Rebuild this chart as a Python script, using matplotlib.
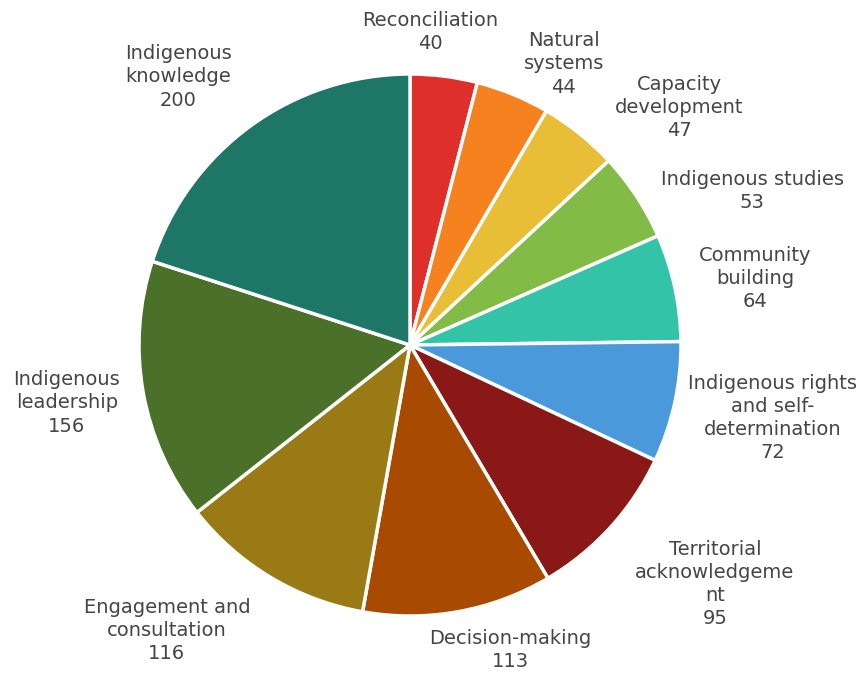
import matplotlib
matplotlib.use("Agg")
import matplotlib.pyplot as plt
import numpy as np

categories = [
    "Reconciliation",
    "Natural\nsystems",
    "Capacity\ndevelopment",
    "Indigenous studies",
    "Community\nbuilding",
    "Indigenous rights\nand self-\ndetermination",
    "Territorial\nacknowledgeme\nnt",
    "Decision-making",
    "Engagement and\nconsultation",
    "Indigenous\nleadership",
    "Indigenous\nknowledge",
]
values = [40, 44, 47, 53, 64, 72, 95, 113, 116, 156, 200]
colors = [
    "#DF2F2A", "#F5821E", "#E8BE36", "#82BB45", "#33C4A7", "#4A9ADB",
    "#8A1816", "#A84A00", "#9A7A15", "#4A7029", "#1E7766",
]

# Label anchor points (in pie-radius units) for the outside data labels
label_xy = [
    (0.074, 1.155), (0.568, 1.037), (0.993, 0.875), (1.262, 0.568),
    (1.273, 0.247), (1.339, -0.269), (1.125, -0.882), (0.369, -1.125),
    (-0.897, -1.052), (-1.266, -0.214), (-0.856, 0.989),
]

plt.rcParams["font.family"] = ["DejaVu Sans"]

W, H = 863, 675
fig = plt.figure(figsize=(W / 100, H / 100), dpi=100)
cx, cy, R = 410, 345, 271
ax = fig.add_axes([(cx - R) / W, (H - cy - R) / H, 2 * R / W, 2 * R / H])

wedges, _ = ax.pie(
    values,
    colors=colors,
    startangle=90,
    counterclock=False,
    radius=1.0,
    wedgeprops=dict(edgecolor="white", linewidth=2.5),
)
ax.set_xlim(-1, 1)
ax.set_ylim(-1, 1)
ax.set_aspect("equal")
ax.axis("off")

for name, val, (lx, ly) in zip(categories, values, label_xy):
    ax.text(lx, ly, f"{name}\n{val}", ha="center", va="center",
            fontsize=14, color="#454545", linespacing=1.27,
            multialignment="center", clip_on=False)

fig.savefig("out.png", dpi=100, facecolor="white")
